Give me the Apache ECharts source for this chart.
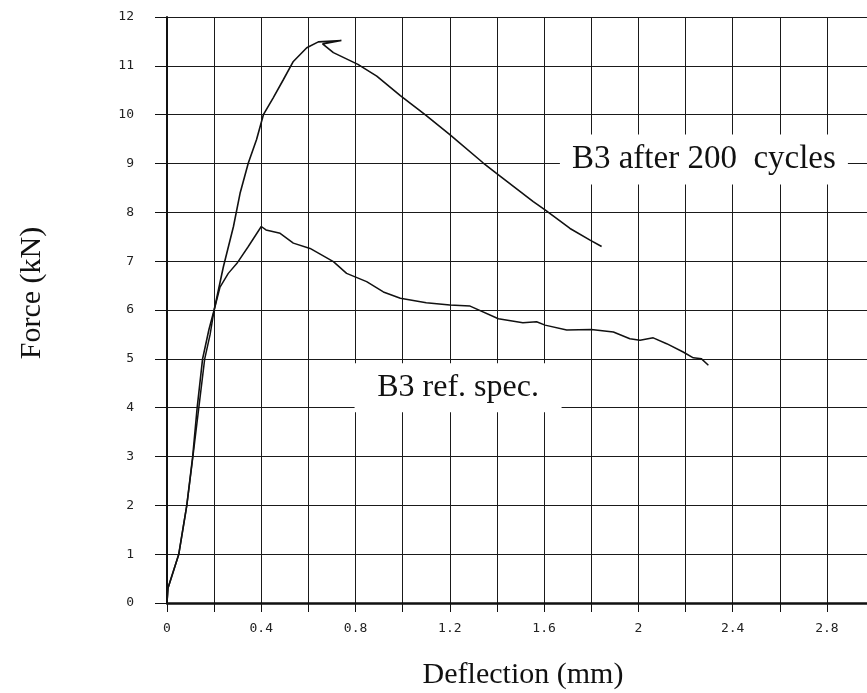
<!DOCTYPE html>
<html>
<head>
<meta charset="utf-8">
<script src="https://cdn.jsdelivr.net/npm/echarts@6/dist/echarts.min.js"></script>
<style>
  html, body { margin: 0; padding: 0; background: #fff; }
  #chart { width: 867px; height: 693px; }
</style>
</head>
<body>
<div id="chart"></div>
<script>
// values
const afterDeflection = [0, 0.004, 0.05, 0.084, 0.109, 0.128, 0.151, 0.178, 0.2, 0.239, 0.282, 0.31, 0.345, 0.38, 0.409, 0.45, 0.494, 0.536, 0.593, 0.642, 0.74, 0.66, 0.706, 0.81, 0.89, 0.99, 1.095, 1.2, 1.342, 1.398, 1.554, 1.604, 1.71, 1.795, 1.844]
const afterForce = [0, 0.3, 1.0, 2.0, 3.0, 4.0, 5.0, 5.6, 6.0, 6.88, 7.71, 8.39, 9.01, 9.49, 10.0, 10.34, 10.72, 11.09, 11.37, 11.49, 11.52, 11.45, 11.27, 11.03, 10.79, 10.39, 10.0, 9.59, 9.01, 8.8, 8.22, 8.05, 7.67, 7.43, 7.3]

const refDeflection = [0, 0.004, 0.05, 0.084, 0.11, 0.135, 0.16, 0.183, 0.2, 0.225, 0.26, 0.296, 0.345, 0.4, 0.42, 0.48, 0.536, 0.607, 0.706, 0.762, 0.847, 0.918, 0.99, 1.1, 1.2, 1.286, 1.406, 1.51, 1.568, 1.604, 1.696, 1.8, 1.894, 1.964, 2.007, 2.063, 2.12, 2.19, 2.233, 2.268, 2.297]
const refForce = [0, 0.3, 1.0, 2.0, 3.0, 4.0, 5.0, 5.5, 6.0, 6.47, 6.75, 6.95, 7.3, 7.71, 7.64, 7.57, 7.37, 7.26, 6.99, 6.75, 6.58, 6.37, 6.24, 6.15, 6.1, 6.08, 5.82, 5.74, 5.76, 5.69, 5.59, 5.6, 5.55, 5.41, 5.38, 5.43, 5.31, 5.14, 5.02, 5.0, 4.87]

const seriesNames = ['B3 after 200 cycles', 'B3 ref. spec.']
const labelAt = [[2.278, 9.08], [1.235, 4.41]]

const zip = (xs, ys) => xs.map((x, i) => [x, ys[i]])

const chart = echarts.init(document.getElementById('chart'), null, { renderer: 'canvas' })

const serif = '"Liberation Serif", "Times New Roman", serif'
const tickFont = '"DejaVu Sans Mono", monospace'
const gridLine = { show: true, lineStyle: { color: '#1a1a1a', width: 1 } }

const option = {
    backgroundColor: '#fff',
    animation: false,
    grid: { left: 167, right: 0, top: 17, bottom: 90, containLabel: false, outerBoundsMode: 'none' },
    xAxis: {
        type: 'value',
        min: 0,
        max: 2.97,
        interval: 0.2,
        name: 'Deflection (mm)',
        nameLocation: 'middle',
        nameGap: 57,
        nameTextStyle: { fontFamily: serif, fontSize: 30, color: '#111', padding: [0, 0, 0, 12] },
        axisLine: { show: true, lineStyle: { color: '#111', width: 2.5 } },
        axisTick: { show: true, length: 9, lineStyle: { color: '#111', width: 1 } },
        axisLabel: {
            margin: 19,
            fontFamily: tickFont,
            fontSize: 13,
            color: '#222',
            formatter: v => {
                const r = Math.round(v * 10) / 10
                if (Math.abs(r - v) > 1e-6) return ''
                return Math.round(r * 10) % 4 === 0 ? String(r) : ''
            }
        },
        splitLine: gridLine
    },
    yAxis: {
        type: 'value',
        min: 0,
        max: 12,
        interval: 1,
        name: 'Force (kN)',
        nameLocation: 'middle',
        nameRotate: 90,
        nameGap: 120,
        nameTextStyle: { fontFamily: serif, fontSize: 30, color: '#111', padding: [0, 0, 0, 34] },
        axisLine: { show: true, lineStyle: { color: '#111', width: 2 } },
        axisTick: { show: true, length: 12, lineStyle: { color: '#111', width: 1 } },
        axisLabel: {
            margin: 33,
            fontFamily: tickFont,
            fontSize: 13,
            color: '#222'
        },
        splitLine: gridLine
    },
    series: [
        {
            name: seriesNames[0],
            type: 'line',
            data: zip(afterDeflection, afterForce),
            showSymbol: false,
            smooth: false,
            lineStyle: { color: '#111', width: 1.6 },
            markPoint: {
                symbol: 'rect',
                symbolSize: [288, 50],
                itemStyle: { color: '#fff' },
                label: { show: true, position: 'inside', formatter: 'B3 after 200  cycles', fontFamily: serif, fontSize: 33, color: '#111' },
                data: [{ coord: labelAt[0] }]
            }
        },
        {
            name: seriesNames[1],
            type: 'line',
            data: zip(refDeflection, refForce),
            showSymbol: false,
            smooth: false,
            lineStyle: { color: '#111', width: 1.5 },
            markPoint: {
                symbol: 'rect',
                symbolSize: [207, 49],
                itemStyle: { color: '#fff' },
                label: { show: true, position: 'inside', formatter: seriesNames[1], fontFamily: serif, fontSize: 32, color: '#111' },
                data: [{ coord: labelAt[1] }]
            }
        }
    ]
}

chart.setOption(option)
</script>
</body>
</html>
